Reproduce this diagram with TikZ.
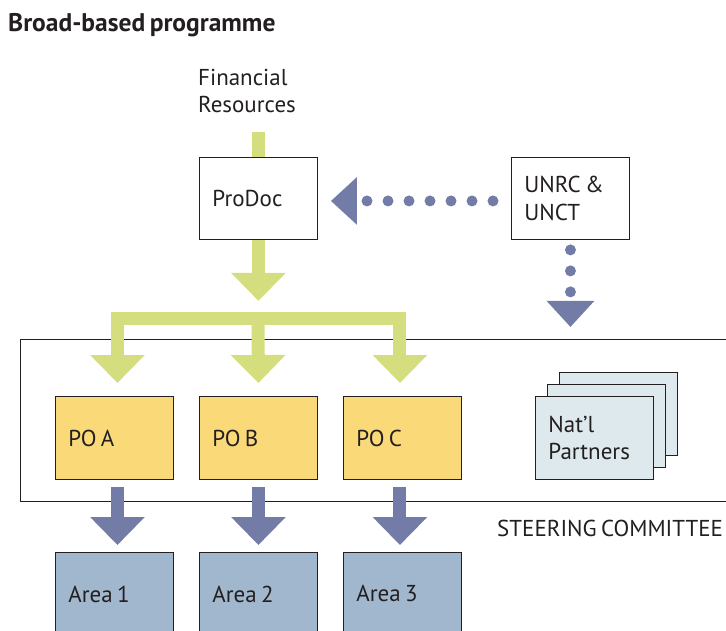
\documentclass[tikz,border=0pt]{standalone}
\usepackage{fontspec}
\setmainfont{PT Sans}[WordSpace=0.7]
\usetikzlibrary{arrows.meta}

\definecolor{ink}{RGB}{35,31,32}
\definecolor{leaf}{RGB}{212,222,126}
\definecolor{slate}{RGB}{114,124,166}
\definecolor{sun}{RGB}{250,217,120}
\definecolor{sky}{RGB}{161,183,205}
\definecolor{mist}{RGB}{221,233,236}

\tikzset{
  bigtip/.tip={Triangle[width=53pt,length=28pt]},
  dottip/.tip={Triangle[width=46pt,length=26pt]},
  txt/.style={font=\fontsize{23}{27.5}\selectfont, text=ink},
  box/.style={txt, draw=ink, line width=0.9pt, anchor=north west,
    minimum width=118pt, minimum height=82pt, text width=92pt,
    inner xsep=13pt, inner ysep=0pt, align=flush left},
  pobox/.style={box, fill=sun, minimum height=83pt},
  areabox/.style={box, fill=sky, minimum height=83pt},
  partnerbox/.style={box, fill=mist, minimum height=83pt},
  greenbar/.style={draw=leaf, line width=13pt},
  greenarrow/.style={greenbar, line join=miter, -{bigtip}},
  bluearrow/.style={draw=slate, line width=13pt, -{bigtip}},
  dotline/.style={draw=slate, line width=11pt, line cap=round,
    dash pattern=on 0pt off 21pt, -{dottip}},
}

\begin{document}
\begin{tikzpicture}[x=1pt,y=-1pt]
\useasboundingbox (0,0) rectangle (726,631);

% heading
\node[txt, font=\fontsize{25.5}{30}\bfseries, anchor=west, inner sep=0pt]
  (title) at (8,25) {Broad-based programme};

% steering committee frame (runs off the right edge)
\node[draw=ink, line width=0.9pt, anchor=north west, minimum width=740pt,
  minimum height=162pt, inner sep=0pt] (steer) at (20,339) {};
\node[txt, anchor=west, inner sep=0pt] (steerlabel) at (497,528)
  {STEERING COMMITTEE};

% top row
\node[txt, anchor=west, align=flush left, inner sep=0pt] (fin) at (198,91)
  {Financial\\Resources};
\node[box, fill=white] (prodoc) at (199,157) {ProDoc};
\node[box, fill=white] (unrc) at (511,157) {UNRC \&\\UNCT};

% programme outcomes
\node[pobox] (poa) at (55,396) {PO A};
\node[pobox] (pob) at (199,396) {PO B};
\node[pobox] (poc) at (343,396) {PO C};

% national partners, stacked sheets
\node[partnerbox] (partnersback) at (559,372) {};
\node[partnerbox] (partnersmid) at (547,384) {};
\node[partnerbox] (partners) at (535,396) {Nat’l\\Partners};

% areas
\node[areabox] (areaa) at (55,552) {Area 1};
\node[areabox] (areab) at (199,552) {Area 2};
\node[areabox] (areac) at (343,552) {Area 3};

% funding flow
\coordinate (finfoot) at ([yshift=25pt]prodoc.north);
\draw[greenbar] (finfoot) -- (prodoc.north);
\coordinate (split) at ([yshift=-61pt]prodoc.south);
\draw[greenarrow] (prodoc.south) -- (split);

\coordinate (busmid) at (258,318.5);
\coordinate (ina) at ([xshift=3pt,yshift=13pt]poa.north);
\coordinate (inb) at ([yshift=13pt]pob.north);
\coordinate (inc) at ([xshift=-2.5pt,yshift=13pt]poc.north);
\draw[greenarrow, {bigtip}-{bigtip}] (ina) |- (busmid) -| (inc);
\draw[greenarrow] (busmid) -- (inb);

% outcomes to areas
\draw[bluearrow] ([xshift=3pt,yshift=-7pt]poa.south) -- ([xshift=3pt,yshift=7pt]areaa.north);
\draw[bluearrow] ([yshift=-7pt]pob.south) -- ([yshift=7pt]areab.north);
\draw[bluearrow] ([xshift=-2.5pt,yshift=-7pt]poc.south) -- ([xshift=-2.5pt,yshift=7pt]areac.north);

% UN guidance
\draw[dotline] ([xshift=-18pt,yshift=-2.5pt]unrc.west) -- ([xshift=13pt,yshift=-2.5pt]prodoc.east);
\coordinate (sctop) at (unrc.south |- steer.north);
\draw[dotline] ([yshift=-10pt]unrc.south) -- ([yshift=12pt]sctop);
\end{tikzpicture}
\end{document}
